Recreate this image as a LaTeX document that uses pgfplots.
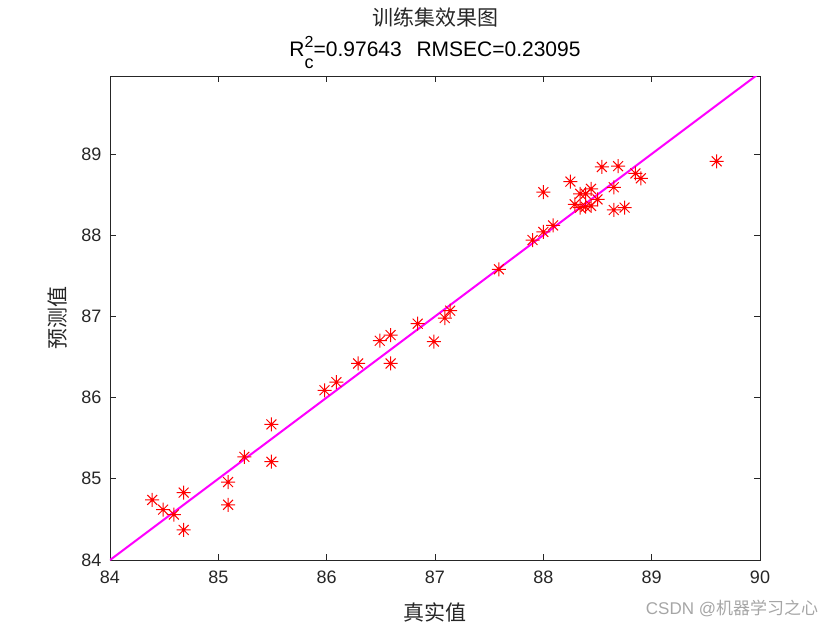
\documentclass[border=0pt]{standalone}
\usepackage{fontspec}
\setmainfont{Liberation Sans}
\newfontfamily\cjk{Noto Sans CJK SC}
\usepackage{pgfplots}
\pgfplotsset{compat=1.18}
\definecolor{axgray}{rgb}{0.15,0.15,0.15}
\definecolor{mag}{rgb}{1,0,1}
\definecolor{myred}{rgb}{1,0,0}
\pgfdeclareplotmark{star8}{%
  \pgfpathmoveto{\pgfqpoint{-\pgfplotmarksize}{0pt}}\pgfpathlineto{\pgfqpoint{\pgfplotmarksize}{0pt}}%
  \pgfpathmoveto{\pgfqpoint{0pt}{-\pgfplotmarksize}}\pgfpathlineto{\pgfqpoint{0pt}{\pgfplotmarksize}}%
  \pgfpathmoveto{\pgfqpoint{-0.707\pgfplotmarksize}{-0.707\pgfplotmarksize}}\pgfpathlineto{\pgfqpoint{0.707\pgfplotmarksize}{0.707\pgfplotmarksize}}%
  \pgfpathmoveto{\pgfqpoint{-0.707\pgfplotmarksize}{0.707\pgfplotmarksize}}\pgfpathlineto{\pgfqpoint{0.707\pgfplotmarksize}{-0.707\pgfplotmarksize}}%
  \pgfusepathqstroke}
\begin{document}
\begin{tikzpicture}
\path[use as bounding box] (-110pt,-70pt) rectangle (730pt,560pt);
\begin{axis}[
  at={(0pt,0pt)}, anchor=south west,
  scale only axis, width=650pt, height=484pt,
  xmin=84, xmax=90, ymin=84, ymax=89.96,
  xtick={84,85,...,90}, ytick={84,85,...,89},
  tick align=inside, major tick length=6pt,
  axis line style={axgray, line width=0.9pt},
  tick style={axgray, line width=0.9pt},
  ticklabel style={font=\fontsize{18}{21}\selectfont, text=axgray},
  /pgf/number format/assume math mode=true,
  xticklabel style={yshift=-7pt},
  yticklabel style={xshift=-5pt},
  clip=true,
]
\addplot[mag, line width=2pt] coordinates {(84,84) (90,90)};
\addplot[only marks, myred, mark=star8, mark size=7pt, line width=1pt] coordinates {
(84.39,84.74) (84.49,84.62) (84.59,84.56) (84.68,84.83) (84.68,84.37)
(85.09,84.96) (85.09,84.68) (85.24,85.27) (85.49,85.67) (85.49,85.21)
(85.98,86.09) (86.09,86.19) (86.29,86.42) (86.49,86.70) (86.59,86.77)
(86.59,86.42) (86.84,86.91) (86.99,86.69) (87.09,86.98) (87.14,87.07)
(87.59,87.58) (87.90,87.94) (88.00,88.04) (88.00,88.53) (88.09,88.12)
(88.25,88.66) (88.54,88.84) (88.69,88.85) (88.85,88.76) (88.90,88.70)
(88.34,88.51) (88.39,88.51) (88.44,88.57) (88.29,88.38) (88.34,88.34)
(88.39,88.35) (88.44,88.36) (88.50,88.44) (88.65,88.59) (88.65,88.31)
(88.75,88.34) (89.60,88.91)
};
\end{axis}
\node[text=axgray, font=\cjk\fontsize{21}{24}\selectfont] at (325pt,542pt) {训练集效果图};
\node[text=black, font=\fontsize{21}{24}\selectfont] at (325pt,507pt) {R\rlap{\raisebox{9pt}{\fontsize{16}{19}\selectfont 2}}\raisebox{-12pt}{\fontsize{18}{21}\selectfont c}=0.97643\hspace{0.7em}RMSEC=0.23095};
\node[text=axgray, font=\cjk\fontsize{21}{24}\selectfont, rotate=90] at (-52pt,242pt) {预测值};
\node[text=axgray, font=\cjk\fontsize{21}{24}\selectfont] at (325pt,-52pt) {真实值};
\node[text=gray!70, font=\fontsize{17}{20}\selectfont] at (622pt,-48pt) {CSDN @{\cjk 机器学习之心}};
\end{tikzpicture}
\end{document}
